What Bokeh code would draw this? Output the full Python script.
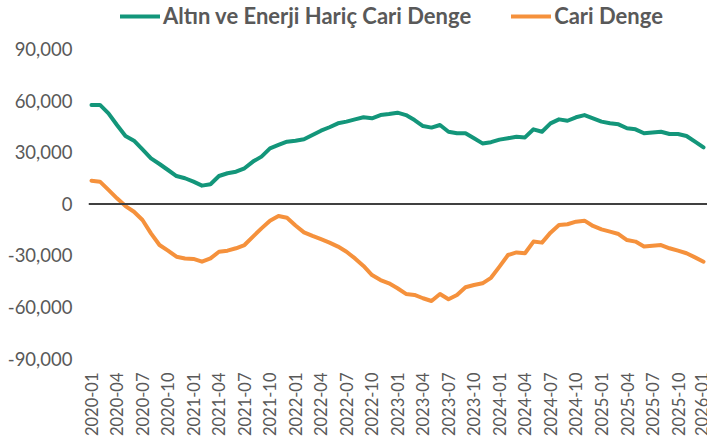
import math
from bokeh.plotting import figure
from bokeh.models import (ColumnDataSource, FixedTicker, NumeralTickFormatter, Span,
                          Legend, LegendItem, Range1d)
from bokeh.embed import file_html
from bokeh.resources import INLINE

months = [f"{2020 + i // 12}-{i % 12 + 1:02d}" for i in range(73)]

green = [
    57700, 57700, 52800, 46000, 39600, 36900, 31800, 26600, 23300, 19800, 16300, 15000,
    13000, 10700, 11500, 16300, 17900, 18800, 20800, 24700, 27600, 32400, 34400, 36300,
    36900, 37700, 40200, 42700, 44700, 47000, 48000, 49300, 50500, 49900, 51800, 52400,
    53200, 51800, 48900, 45400, 44500, 46000, 42100, 41200, 41200, 38300, 35300, 36000,
    37500, 38300, 39200, 38800, 43500, 42100, 47000, 49300, 48500, 50500, 51800, 49900,
    48000, 47000, 46400, 44100, 43500, 41200, 41700, 42100, 40800, 40800, 39600, 36300,
    33000,
]

orange = [
    13600, 13000, 8200, 3300, -1200, -4500, -9300, -17100, -23900, -27200, -30700, -31700,
    -32000, -33600, -31700, -27800, -27200, -25800, -23900, -19000, -14200, -9700, -7000, -8000,
    -12500, -16500, -18600, -20500, -22500, -24800, -27800, -31700, -36100, -41400, -44300, -46200,
    -49100, -52400, -53000, -54900, -56500, -52400, -55500, -53000, -48500, -47200, -46200, -43000,
    -36500, -29700, -28200, -28700, -21900, -22500, -16700, -12200, -11800, -10300, -9700, -12800,
    -14800, -16100, -17500, -21000, -21900, -24800, -24300, -23900, -25800, -27200, -28700, -31100,
    -33600,
]

y_ticks = [-90000, -60000, -30000, 0, 30000, 60000, 90000]
label_green = "Altın ve Enerji Hariç Cari Denge"
label_orange = "Cari Denge"

idx = list(range(len(months)))
src = ColumnDataSource(dict(x=idx, g=green, o=orange))

GREEN = "#13967a"
ORANGE = "#f5913c"
GREY = "#595959"

p = figure(width=707, height=444, output_backend="svg", toolbar_location=None,
           x_range=Range1d(-0.35, 72.47), y_range=Range1d(-90000, 118540),
           min_border_left=88, min_border_right=0, min_border_top=0, min_border_bottom=86)
p.outline_line_color = None
p.xgrid.visible = False
p.ygrid.visible = False
p.background_fill_color = "white"
p.border_fill_color = "white"

zero = Span(location=0, dimension="width", line_color="#404040", line_width=2)
p.add_layout(zero)

rg = p.line("x", "g", source=src, line_color=GREEN, line_width=4, line_join="round", line_cap="round")
ro = p.line("x", "o", source=src, line_color=ORANGE, line_width=4, line_join="round", line_cap="round")

# y axis
p.yaxis.ticker = FixedTicker(ticks=y_ticks)
p.yaxis.formatter = NumeralTickFormatter(format="0,0")
p.yaxis.axis_line_color = None
p.yaxis.major_tick_line_color = None
p.yaxis.minor_tick_line_color = None
p.yaxis.major_tick_out = 0
p.yaxis.major_label_standoff = 16
p.yaxis.major_label_text_font = "Lato"
p.yaxis.major_label_text_font_size = "18.5px"
p.yaxis.major_label_text_color = GREY

# x axis
xt = list(range(0, 73, 3))
p.xaxis.ticker = FixedTicker(ticks=xt)
p.xaxis.major_label_overrides = {i: months[i] for i in xt}
p.xaxis.major_label_orientation = math.pi / 2
p.xaxis.axis_line_color = None
p.xaxis.major_tick_line_color = None
p.xaxis.minor_tick_line_color = None
p.xaxis.major_tick_out = 0
p.xaxis.major_label_standoff = 14
p.xaxis.major_label_text_font = "Lato"
p.xaxis.major_label_text_font_size = "16.5px"
p.xaxis.major_label_text_color = GREY

legend = Legend(items=[LegendItem(label=label_green, renderers=[rg]),
                       LegendItem(label=label_orange, renderers=[ro])],
                orientation="horizontal", location=(32, 329),
                glyph_width=40, glyph_height=22, label_height=22, label_standoff=3, spacing=40,
                padding=0, margin=0, border_line_alpha=0, background_fill_alpha=0,
                label_text_font="Lato", label_text_font_style="bold",
                label_text_font_size="22px", label_text_color=GREY)
p.add_layout(legend)

open("out.html", "w").write(file_html(p, INLINE))
